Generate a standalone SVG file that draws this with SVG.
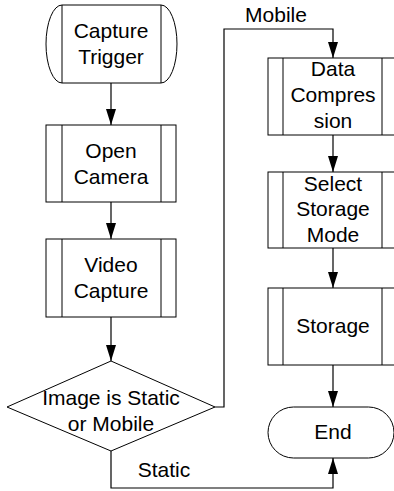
<svg xmlns="http://www.w3.org/2000/svg" width="394" height="491" viewBox="0 0 394 491">
<defs>
<marker id="ah" viewBox="0 0 16 10" refX="16" refY="5" markerWidth="16" markerHeight="10" markerUnits="userSpaceOnUse" orient="auto">
<path d="M0,0 L16,5 L0,10 z" fill="#000"/>
</marker>
<style>
.s{fill:#fff;stroke:#000;stroke-width:1}
.l{fill:none;stroke:#000;stroke-width:1}
.c{fill:none;stroke:#000;stroke-width:1.2}
.t{font-family:"Liberation Sans",Arial,sans-serif;font-size:21px;fill:#000;text-anchor:middle}
</style>
</defs>
<rect width="394" height="491" fill="#fff"/>
<g id="connectors">
<line class="c" x1="111" y1="83" x2="111" y2="125" marker-end="url(#ah)"/>
<line class="c" x1="111" y1="202" x2="111" y2="239" marker-end="url(#ah)"/>
<line class="c" x1="111" y1="317" x2="111" y2="361" marker-end="url(#ah)"/>
<line class="c" x1="333" y1="135" x2="333" y2="172" marker-end="url(#ah)"/>
<line class="c" x1="333" y1="248" x2="333" y2="288" marker-end="url(#ah)"/>
<line class="c" x1="333" y1="365" x2="333" y2="407" marker-end="url(#ah)"/>
<polyline class="c" points="215,407 224,407 224,29 333,29 333,58" marker-end="url(#ah)"/>
<polyline class="c" points="111,451 111,488 333,488 333,458" marker-end="url(#ah)"/>
<text class="t" x="276" y="22">Mobile</text>
<text class="t" x="164" y="477">Static</text>
</g>
<g id="capture-trigger">
<path class="s" d="M62,5 L161,5 A16,39 0 0 1 161,83 L62,83 A16,39 0 0 1 62,5 z"/>
<line class="l" x1="62" y1="5" x2="62" y2="83"/>
<line class="l" x1="161" y1="5" x2="161" y2="83"/>
<text class="t" x="111" y="38">Capture</text>
<text class="t" x="111" y="64">Trigger</text>
</g>
<g id="open-camera">
<rect class="s" x="46" y="125" width="130" height="77"/>
<line class="l" x1="62" y1="125" x2="62" y2="202"/>
<line class="l" x1="161" y1="125" x2="161" y2="202"/>
<text class="t" x="111" y="158">Open</text>
<text class="t" x="111" y="184">Camera</text>
</g>
<g id="video-capture">
<rect class="s" x="46" y="239" width="130" height="78"/>
<line class="l" x1="62" y1="239" x2="62" y2="317"/>
<line class="l" x1="161" y1="239" x2="161" y2="317"/>
<text class="t" x="111" y="272">Video</text>
<text class="t" x="111" y="298">Capture</text>
</g>
<g id="decision">
<polygon class="s" points="111,361 215,407 111,451 7,407"/>
<text class="t" x="111" y="405">Image is Static</text>
<text class="t" x="111" y="431">or Mobile</text>
</g>
<g id="data-compression">
<rect class="s" x="268" y="58" width="130" height="77"/>
<line class="l" x1="283" y1="58" x2="283" y2="135"/>
<line class="l" x1="382" y1="58" x2="382" y2="135"/>
<text class="t" x="333" y="76">Data</text>
<text class="t" x="333" y="102">Compres</text>
<text class="t" x="333" y="128">sion</text>
</g>
<g id="select-storage-mode">
<rect class="s" x="268" y="172" width="130" height="76"/>
<line class="l" x1="283" y1="172" x2="283" y2="248"/>
<line class="l" x1="382" y1="172" x2="382" y2="248"/>
<text class="t" x="333" y="191">Select</text>
<text class="t" x="333" y="216">Storage</text>
<text class="t" x="333" y="242">Mode</text>
</g>
<g id="storage">
<rect class="s" x="268" y="288" width="130" height="77"/>
<line class="l" x1="283" y1="288" x2="283" y2="365"/>
<line class="l" x1="382" y1="288" x2="382" y2="365"/>
<text class="t" x="333" y="333">Storage</text>
</g>
<g id="end">
<rect class="s" x="268" y="407" width="126" height="51" rx="25.5" ry="25.5"/>
<text class="t" x="333" y="439">End</text>
</g>
</svg>
